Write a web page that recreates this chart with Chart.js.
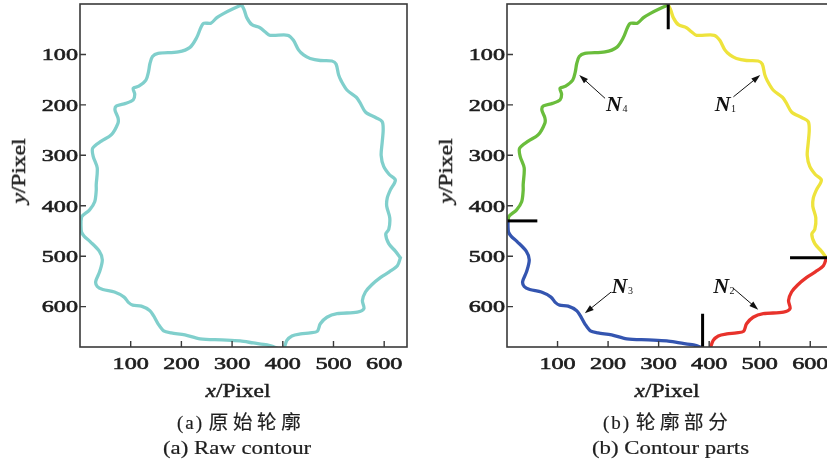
<!DOCTYPE html>
<html>
<head>
<meta charset="utf-8">
<script src="https://cdn.jsdelivr.net/npm/chart.js@4.4.1/dist/chart.umd.min.js"></script>
<style>
  html, body { margin: 0; padding: 0; background: #fff; }
  body { width: 827px; height: 460px; position: relative; overflow: hidden;
         font-family: "Liberation Serif", "Noto Sans CJK SC", serif; color: #1e1e1e; }
  canvas { position: absolute; top: 0; }
  #chartA { left: 0; }
  #chartB { left: 420px; }
  .t { position: absolute; white-space: nowrap; line-height: 1; transform-origin: center; }
  .ttl { font-size: 18px; -webkit-text-stroke: 0.45px #1e1e1e; transform: translate(-50%, -50%) scaleX(1.3); }
  .ttl.rot { transform: translate(-50%, -50%) rotate(-90deg) scaleX(1.3); }
  .cap { font-size: 19px; transform: translateY(-50%); -webkit-text-stroke: 0.2px #1e1e1e; }
  .cap .lead { letter-spacing: 2px; }
  .cap .cn { letter-spacing: 4.6px; font-size: 19.5px; }
  .cap.en { transform-origin: left center; transform: translateY(-50%) scaleX(1.2); }
</style>
</head>
<body>
<canvas id="chartA" width="420" height="460"></canvas>
<canvas id="chartB" width="420" height="460"></canvas>

<div class="t ttl rot" style="left:19px; top:171px"><i>y</i>/Pixel</div>
<div class="t ttl rot" style="left:446px; top:171px"><i>y</i>/Pixel</div>
<div class="t ttl" style="left:238px; top:391px"><i>x</i>/Pixel</div>
<div class="t ttl" style="left:667px; top:391px"><i>x</i>/Pixel</div>

<div class="t cap" style="left:177px; top:423px"><span class="lead">(a)</span> <span class="cn">原始轮廓</span></div>
<div class="t cap en" style="left:163px; top:447px">(a) Raw contour</div>
<div class="t cap" style="left:603px; top:423px"><span class="lead">(b)</span> <span class="cn">轮廓部分</span></div>
<div class="t cap en" style="left:592px; top:447px">(b) Contour parts</div>

<script>
// contour parts, [x, y] in pixels of the source image (y grows downward)
const partN1 = [[319,2],[324,12],[329,27],[339,41],[355,47],[365,55],[375,62],[410,62],[421,72],[431,91],
  [441,101],[454,108],[474,112],[497,113],[505,119],[510,140],[515,152],[527,171],[545,185],[552,195],
  [563,214],[583,225],[596,233],[598,250],[596,275],[594,300],[599,322],[610,338],[622,349],[612,369],
  [606,385],[605,401],[611,424],[609,447],[603,456],[609,475],[622,490],[632,503]];
const partN2 = [[632,503],[626,519],[610,531],[593,542],[575,557],[563,571],[557,588],[560,604],[547,611],
  [507,614],[487,621],[474,634],[468,649],[454,652],[435,654],[418,658],[408,667],[402,683]];
const partN3 = [[390,683],[369,676],[342,672],[316,668],[280,666],[237,664],[207,656],[180,652],[165,648],
  [154,634],[145,618],[138,608],[121,599],[104,597],[96,592],[87,581],[68,571],[45,566],[34,560],[31,550],
  [39,530],[44,507],[38,490],[20,471],[8,460],[3,452],[2,440],[2,430]];
const partN4 = [[2,430],[4,421],[19,408],[29,392],[32,370],[32,358],[34,325],[26,302],[25,286],[42,272],
  [62,259],[75,236],[75,226],[69,210],[72,202],[90,197],[105,190],[108,179],[105,167],[116,163],[130,151],
  [135,135],[138,118],[143,104],[154,98],[194,95],[217,86],[230,67],[243,39],[258,38],[270,27],[283,19],
  [303,9],[319,2]];

// split marks between the parts
const markTop = [[319,0],[319,50]];
const markRight = [[560,503],[645,503]];
const markBottom = [[387,614],[387,680]];
const markLeft = [[0,430],[60,430]];

const xTicks = [100, 200, 300, 400, 500, 600];
const yTicks = [100, 200, 300, 400, 500, 600];

// part labels: subscript, text anchor, arrow tail, arrow head (data units)
const noteNames = ['1', '2', '3', '4'];
const noteText = [[411,212],[408,573],[207,573],[196,212]];
const noteTail = [[448,184],[447,563],[206,571],[194,187]];
const noteHead = [[501,141],[497,606],[154,613],[143,141]];

const pts = arr => arr.map(p => ({ x: p[0], y: p[1] }));

function line(arr, color, width, tension) {
  return { data: pts(arr), showLine: true, borderColor: color, borderWidth: width,
           pointRadius: 0, tension: tension, clip: 0, fill: false };
}

function tickText(ctx, text, x, y) {
  ctx.save();
  ctx.translate(x, y);
  ctx.scale(1.42, 1);
  ctx.fillText(text, 0, 0);
  ctx.strokeText(text, 0, 0);
  ctx.restore();
}

const decor = {
  id: 'decor',
  afterDatasetsDraw(chart, args, opts) {
    const ctx = chart.ctx, a = chart.chartArea;
    const xs = chart.scales.x, ys = chart.scales.y;
    ctx.save();
    ctx.strokeStyle = '#3a3a3a';
    ctx.lineWidth = 1.6;
    ctx.strokeRect(a.left, a.top, a.right - a.left, a.bottom - a.top);

    ctx.lineWidth = 1.4;
    ctx.beginPath();
    xs.ticks.forEach(t => {
      const px = xs.getPixelForValue(t.value);
      ctx.moveTo(px, a.bottom); ctx.lineTo(px, a.bottom - 6);
    });
    ys.ticks.forEach(t => {
      const py = ys.getPixelForValue(t.value);
      ctx.moveTo(a.left, py); ctx.lineTo(a.left + 6, py);
    });
    ctx.stroke();

    ctx.fillStyle = '#1e1e1e';
    ctx.strokeStyle = '#1e1e1e';
    ctx.lineWidth = 0.6;
    ctx.font = '17px "Liberation Serif"';
    ctx.textBaseline = 'alphabetic';
    ctx.textAlign = 'center';
    xs.ticks.forEach(t => tickText(ctx, String(t.value), xs.getPixelForValue(t.value), a.bottom + 21.5));
    ctx.textAlign = 'right';
    ys.ticks.forEach(t => tickText(ctx, String(t.value), a.left - 2, ys.getPixelForValue(t.value) + 5.8));

    if (opts.notes) {
      ctx.strokeStyle = '#111';
      ctx.fillStyle = '#111';
      ctx.lineWidth = 1;
      noteNames.forEach((n, i) => {
        const x0 = xs.getPixelForValue(noteTail[i][0]), y0 = ys.getPixelForValue(noteTail[i][1]);
        const x1 = xs.getPixelForValue(noteHead[i][0]), y1 = ys.getPixelForValue(noteHead[i][1]);
        const ang = Math.atan2(y1 - y0, x1 - x0);
        ctx.beginPath();
        ctx.moveTo(x0, y0);
        ctx.lineTo(x1 - 6 * Math.cos(ang), y1 - 6 * Math.sin(ang));
        ctx.stroke();
        ctx.beginPath();
        ctx.moveTo(x1, y1);
        ctx.lineTo(x1 - 9 * Math.cos(ang) + 3 * Math.sin(ang), y1 - 9 * Math.sin(ang) - 3 * Math.cos(ang));
        ctx.lineTo(x1 - 9 * Math.cos(ang) - 3 * Math.sin(ang), y1 - 9 * Math.sin(ang) + 3 * Math.cos(ang));
        ctx.closePath();
        ctx.fill();

        const tx = xs.getPixelForValue(noteText[i][0]), ty = ys.getPixelForValue(noteText[i][1]);
        ctx.textAlign = 'left';
        ctx.font = 'italic bold 22px "Liberation Serif"';
        ctx.fillText('N', tx, ty);
        const w = ctx.measureText('N').width;
        ctx.font = '10px "Liberation Serif"';
        ctx.fillText(n, tx + w + 0.5, ty + 1);
      });
    }
    ctx.restore();
  }
};

function buildChart(id, datasets, leftWidth, padRight, notes) {
  return new Chart(document.getElementById(id), {
    type: 'scatter',
    data: { datasets: datasets },
    options: {
      responsive: false,
      animation: false,
      events: [],
      layout: { padding: { top: 4, right: padRight, bottom: 0, left: 0 } },
      plugins: { legend: { display: false }, tooltip: { enabled: false }, decor: { notes: notes } },
      scales: {
        x: {
          type: 'linear', min: 0, max: 645,
          grid: { display: false }, border: { display: false }, ticks: { display: false },
          afterBuildTicks: s => { s.ticks = xTicks.map(v => ({ value: v })); },
          afterFit: s => { s.height = 113; }
        },
        y: {
          type: 'linear', min: 0, max: 680, reverse: true,
          grid: { display: false }, border: { display: false }, ticks: { display: false },
          afterBuildTicks: s => { s.ticks = yTicks.map(v => ({ value: v })); },
          afterFit: s => { s.width = leftWidth; }
        }
      }
    },
    plugins: [decor]
  });
}

const rawContour = [].concat(partN1, partN2, [[396,688]], partN3, partN4);

buildChart('chartA', [line(rawContour, '#80cfcc', 3.3, 0.3)], 80, 13, false);

buildChart('chartB', [
  line(markTop, '#000', 3, 0),
  line(markRight, '#000', 3, 0),
  line(markBottom, '#000', 3, 0),
  line(markLeft, '#000', 3, 0),
  line(partN1, '#eee33c', 3.3, 0.3),
  line(partN2, '#e8322b', 3.3, 0.3),
  line(partN3, '#3455b0', 3.3, 0.3),
  line(partN4, '#6abd3c', 3.3, 0.3)
], 87, 7, true);
</script>
</body>
</html>
